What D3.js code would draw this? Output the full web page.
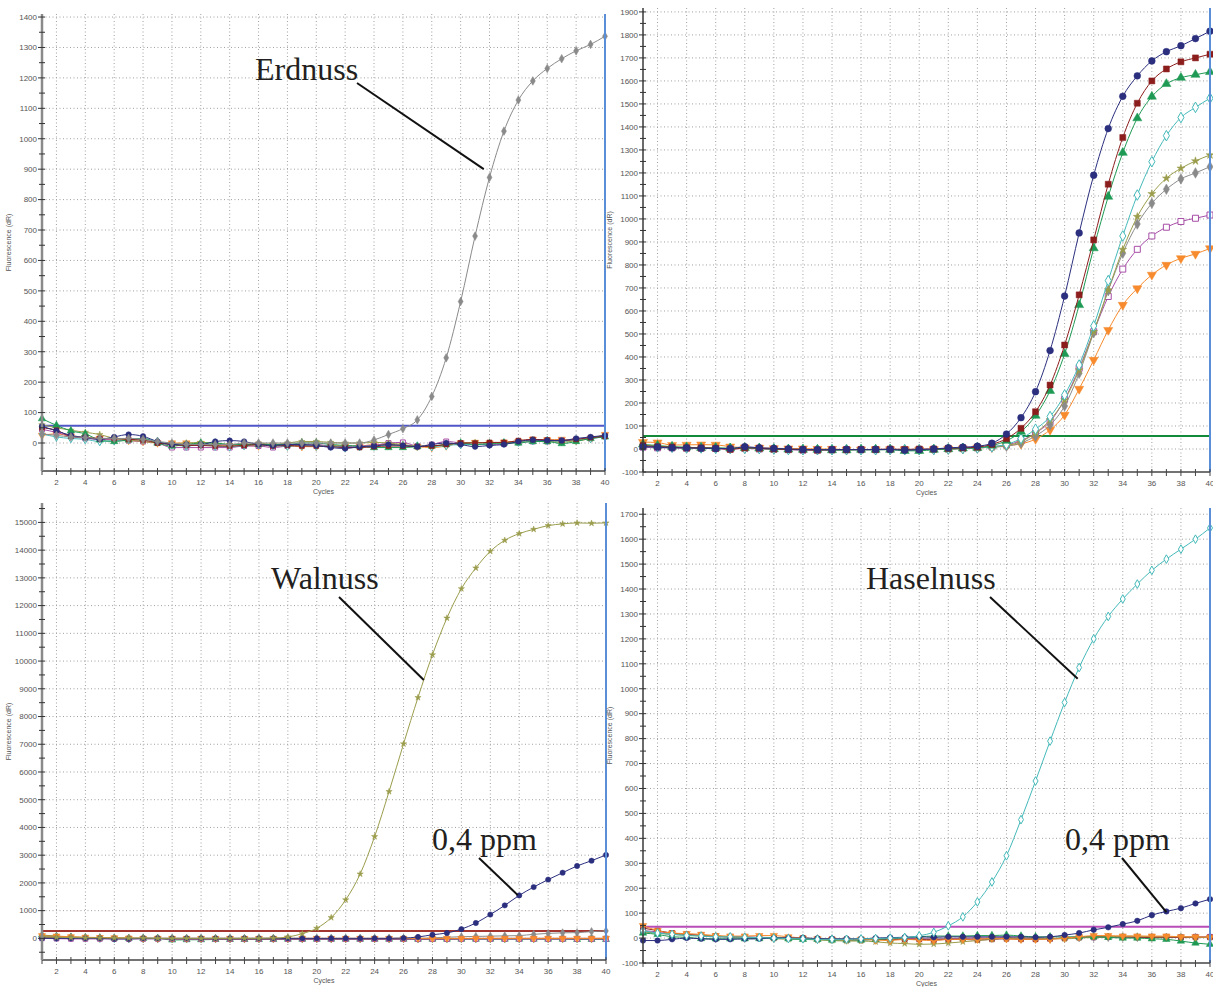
<!DOCTYPE html>
<html>
<head>
<meta charset="utf-8">
<script src="https://cdn.jsdelivr.net/npm/d3@7"></script>
<style>
  body { margin: 0; background: #fff; }
  svg { display: block; }
  .tick-label { font-family: "Liberation Sans", Arial, sans-serif; font-size: 8px; fill: #555; }
  .axis-title { font-family: "Liberation Sans", Arial, sans-serif; font-size: 7px; fill: #555; }
  .note { font-family: "Liberation Serif", "Times New Roman", serif; font-size: 32px; fill: #231f20; }
</style>
</head>
<body>
<div id="chart"></div>
<script>

// 1. Data (fluorescence dR per cycle 1..40)

const cycles = d3.range(1, 41)

// top left - Erdnuss
const p1Navy   = [55,40,25,18,12,20,28,22,5,-5,-5,-5,5,8,5,-5,-8,-5,-5,-8,-15,-18,-12,-10,-5,-8,-12,-5,0,-5,-12,-8,-5,5,10,8,8,15,20,25]
const p1Red    = [50,42,22,18,15,15,12,10,0,-5,-8,-8,-10,-10,-8,-5,-10,-8,-10,-10,-12,-15,-15,-12,-10,-10,-12,-10,-5,0,0,2,2,8,12,10,8,12,18,22]
const p1Green  = [80,58,40,30,10,5,10,15,0,-10,-5,0,0,-5,-5,-5,-5,-5,0,0,-5,-8,-10,-15,-15,-15,-12,-10,-5,0,-5,-2,0,0,5,5,-2,5,15,20]
const p1Olive  = [60,50,42,35,28,15,10,5,0,-2,0,2,0,-5,-5,0,-5,0,5,5,2,0,0,2,0,-5,-10,-10,-5,0,2,0,0,5,8,5,2,8,15,25]
const p1Teal   = [30,20,15,12,5,8,12,15,5,-5,-10,-5,-10,-12,-8,-5,-8,-10,-8,-10,-10,-15,-12,-10,-8,-8,-10,-12,-8,-5,-5,-3,0,3,8,8,5,10,15,20]
const p1Purple = [45,35,22,15,12,10,8,5,0,-15,-15,-15,-15,-15,-10,-10,-15,-10,-8,-5,-10,-12,-10,-8,0,2,-10,-5,5,0,-5,-5,-3,2,5,5,8,10,15,22]
const p1Orange = [25,30,22,18,15,10,8,5,0,0,0,-2,-8,-10,-8,-10,-8,-10,-12,-12,-8,-10,-10,-5,-5,-8,-12,-15,-10,0,2,0,3,5,12,10,12,8,15,28]
const p1Gray   = [30,25,20,18,15,15,15,12,5,0,-5,-5,-5,-5,0,0,0,0,0,0,0,0,0,10,28,47,76,153,280,465,680,873,1025,1127,1190,1231,1263,1289,1310,1337]

// top right - dilution series
const p2Navy   = [10,8,5,5,3,2,2,10,5,3,0,-2,-3,-3,-2,-3,-2,-2,-5,-3,0,5,8,12,25,65,136,249,428,665,939,1190,1393,1533,1622,1687,1727,1753,1784,1816]
const p2Red    = [15,10,8,5,5,3,-2,5,3,0,-2,-3,-5,-3,-3,-2,-2,0,-2,0,0,3,5,8,20,45,90,162,278,452,670,909,1151,1354,1503,1600,1652,1683,1700,1716]
const p2Green  = [20,15,10,8,5,5,3,5,3,0,-2,-3,-3,-5,-5,-3,-3,-3,-8,-8,-3,0,3,5,15,36,75,145,253,413,626,873,1097,1288,1438,1532,1587,1614,1627,1639]
const p2Teal   = [12,10,8,5,5,3,2,3,2,0,-2,-3,-3,-3,-3,-3,-3,-2,-3,-3,-2,0,2,5,10,20,45,86,141,235,365,535,732,926,1104,1249,1362,1441,1485,1525]
const p2Olive  = [15,12,8,5,5,3,2,3,2,0,-2,-2,-3,-3,-2,-3,-3,-2,-3,-3,-2,0,2,5,8,15,32,70,126,213,343,510,691,867,1010,1109,1177,1220,1252,1278]
const p2Gray   = [12,10,8,5,5,3,2,3,2,0,-2,-2,-3,-3,-2,-3,-3,-2,-3,-3,-2,0,2,5,8,12,26,57,104,187,329,506,688,851,978,1068,1129,1174,1200,1227]
const p2Purple = [8,5,5,3,3,2,0,2,0,-2,-3,-5,-5,-3,-3,-3,-3,-2,-3,-3,-2,0,2,5,10,18,36,70,119,216,351,510,663,782,868,926,964,989,1003,1017]
const p2Orange = [30,28,17,18,19,18,10,6,5,3,2,2,0,0,-3,-3,-2,-2,-2,-3,-2,0,2,5,8,15,22,43,83,148,261,387,517,626,698,757,800,829,848,872]

// bottom left - Walnuss
const p3Olive  = [60,40,30,20,20,10,10,10,0,0,0,0,0,0,0,0,10,50,170,365,750,1390,2322,3670,5295,7014,8686,10227,11552,12610,13357,13957,14354,14596,14751,14885,14946,14982,14970,14982]
const p3Navy   = [0,0,0,0,0,-20,-20,0,0,0,0,0,0,0,0,0,0,0,0,0,0,0,0,0,0,10,50,130,195,333,555,860,1190,1550,1850,2120,2368,2610,2801,3007]
const p3Gray   = [80,60,40,30,20,10,0,0,0,0,0,0,0,0,0,0,0,0,0,0,0,0,0,0,0,0,0,20,40,60,70,80,90,100,146,180,200,207,244,270]
const p3Red    = [50,40,30,20,10,0,0,0,0,-20,-20,-20,-20,-20,-20,-20,-20,-20,-20,-20,-20,-20,-20,-20,-20,-20,-20,-20,-20,-10,0,0,0,0,0,0,0,0,0,0]
const p3Green  = [120,80,50,30,20,10,0,0,0,-60,-50,-50,-40,-40,-40,-40,-40,-30,-30,-30,-30,-30,-30,-30,-30,-30,-30,-30,-30,-30,-30,-30,-30,-30,-30,-30,-30,-40,-40,-40]
const p3Purple = [0,-10,-20,-20,-20,-20,-20,-20,-20,-25,-25,-25,-25,-25,-25,-25,-25,-25,-25,-25,-25,-25,-25,-25,-25,-25,-25,-25,-25,-25,-25,-25,-25,-25,-25,-25,-25,-25,-25,-25]
const p3Teal   = [40,30,20,10,0,0,-10,-10,-10,-10,-10,-10,-10,-10,-10,-10,-10,-10,-10,-10,-10,-10,-10,-10,-10,-10,-10,-10,-10,-10,-10,-10,-10,-10,-10,-10,-10,-10,-10,-10]
const p3Orange = [100,80,60,40,30,20,10,0,0,0,0,0,0,0,0,0,0,0,0,0,0,0,0,0,0,0,0,0,0,0,0,0,0,0,0,0,0,0,0,0]

// bottom right - Haselnuss
const p4Teal   = [30,20,15,10,8,5,5,3,2,0,-2,-3,-5,-5,-5,-3,-2,0,2,9,23,49,85,145,225,330,475,630,790,945,1085,1200,1290,1360,1420,1475,1520,1560,1600,1645]
const p4Navy   = [-10,-10,-5,0,-3,-5,-5,-3,-3,0,0,0,-2,-3,-3,-3,0,2,3,5,3,5,5,5,5,5,5,3,5,12,20,33,43,56,69,92,107,120,139,156]
const p4Green  = [20,15,5,3,-2,-3,-3,-3,-2,2,-3,-5,-5,-8,-8,-8,-5,-3,2,5,8,8,8,10,10,12,8,5,5,5,5,5,3,0,0,-3,-5,-12,-20,-25]
const p4Olive  = [25,20,15,12,10,8,5,2,0,-2,-5,-5,-8,-10,-12,-12,-15,-20,-22,-25,-24,-20,-15,-10,-5,0,0,0,-2,-3,0,3,5,8,8,5,5,5,3,3]
const p4Orange = [50,30,20,18,15,10,8,8,10,10,5,0,-3,-5,-8,-5,-8,-10,-5,-8,-10,-5,-5,-5,0,-3,-5,-5,-5,0,5,10,10,8,8,8,8,5,5,3]
const p4Red    = [40,30,20,15,10,8,5,3,2,0,0,0,-3,-5,-5,-5,-5,-5,-5,-5,-8,-5,-5,-8,-5,-3,-5,-5,-2,0,5,5,5,5,3,3,3,3,3,3]
const p4Purple = [30,25,20,15,12,8,5,5,3,2,0,-2,-5,-5,-8,-8,-5,-3,-2,-3,-5,-3,-2,0,0,2,0,-3,-3,0,2,3,5,5,5,5,5,3,5,5]
const p4Gray   = [25,20,15,12,8,5,3,2,2,0,0,-2,-3,-3,-5,-5,-3,-3,-2,-2,-3,-2,0,0,0,0,-2,-3,-3,0,2,3,3,3,3,3,3,2,2,2]

const thresholds = [57, 57, 264, 45]

// 2. Styles

const seriesStyle = {
  navy:   { color: "#2b2f7e", symbol: d3.symbolCircle,   filled: true,  scale: 1 },
  red:    { color: "#8c1d1d", symbol: d3.symbolSquare,   filled: true,  scale: 1 },
  green:  { color: "#1f9a55", symbol: d3.symbolTriangle, filled: true,  scale: 1 },
  teal:   { color: "#45b9b9", symbol: d3.symbolDiamond,  filled: false, scale: 0.9 },
  olive:  { color: "#9b9d4c", symbol: d3.symbolStar,     filled: true,  scale: 0.55 },
  gray:   { color: "#8a8a8a", symbol: d3.symbolDiamond,  filled: true,  scale: 0.9 },
  purple: { color: "#a74ea7", symbol: d3.symbolSquare,   filled: false, scale: 1 },
  orange: { color: "#f68a2c", symbol: d3.symbolTriangle, filled: true,  scale: 1, flip: true },
}

const panels = [
  {
    left: 42, right: 605, top: 14, bottom: 471, yDomain: [-92, 1410],
    ticks: d3.range(0, 1401, 100), step: 100, axisColor: "#8a8a8a", axisWidth: 2.5,
    threshold: thresholds[0], thresholdColor: "#4f56c6", markerSize: 24,
    series: [
      ["orange", p1Orange], ["purple", p1Purple], ["teal", p1Teal], ["olive", p1Olive],
      ["green", p1Green], ["red", p1Red], ["navy", p1Navy], ["gray", p1Gray],
    ],
  },
  {
    left: 643, right: 1210, top: 8, bottom: 472, yDomain: [-100, 1917],
    ticks: d3.range(-100, 1901, 100), step: 100, axisColor: "#3a3a3a", axisWidth: 1.5,
    threshold: thresholds[1], thresholdColor: "#138a3a", markerSize: 36,
    series: [
      ["orange", p2Orange], ["purple", p2Purple], ["gray", p2Gray], ["olive", p2Olive],
      ["teal", p2Teal], ["green", p2Green], ["red", p2Red], ["navy", p2Navy],
    ],
  },
  {
    left: 42, right: 606, top: 503, bottom: 960, yDomain: [-780, 15700],
    ticks: d3.range(0, 15001, 1000), step: 1000, axisColor: "#8a8a8a", axisWidth: 2.5,
    threshold: thresholds[2], thresholdColor: "#a3342f", markerSize: 22,
    series: [
      ["teal", p3Teal], ["green", p3Green], ["red", p3Red], ["gray", p3Gray],
      ["purple", p3Purple], ["orange", p3Orange], ["navy", p3Navy], ["olive", p3Olive],
    ],
  },
  {
    left: 643, right: 1210, top: 508, bottom: 963, yDomain: [-100, 1725],
    ticks: d3.range(-100, 1701, 100), step: 100, axisColor: "#3a3a3a", axisWidth: 1.5,
    threshold: thresholds[3], thresholdColor: "#b84db8", markerSize: 24,
    series: [
      ["gray", p4Gray], ["purple", p4Purple], ["red", p4Red], ["olive", p4Olive],
      ["green", p4Green], ["orange", p4Orange], ["navy", p4Navy], ["teal", p4Teal],
    ],
  },
]

// 3. Draw canvas

const svg = d3.select("#chart")
  .append("svg")
    .attr("width", 1213)
    .attr("height", 987)

svg.append("rect")
    .attr("width", 1213)
    .attr("height", 987)
    .attr("fill", "#fff")

const scalesByPanel = panels.map(p => drawPanel(p))

function drawPanel(p) {
  const x = d3.scaleLinear().domain([1, 40]).range([p.left, p.right])
  const y = d3.scaleLinear().domain(p.yDomain).range([p.bottom, p.top])
  const g = svg.append("g")

  // grid
  g.selectAll(".hgrid")
    .data(p.ticks.filter(v => y(v) < p.bottom - 2))
    .join("line")
      .attr("x1", p.left).attr("x2", x(40))
      .attr("y1", d => y(d)).attr("y2", d => y(d))
      .attr("stroke", "#a0a0a0")
      .attr("stroke-width", 1)
      .attr("stroke-dasharray", "1,2.5")

  g.selectAll(".vgrid")
    .data(d3.range(2, 40, 2))
    .join("line")
      .attr("x1", d => x(d)).attr("x2", d => x(d))
      .attr("y1", p.top).attr("y2", p.bottom)
      .attr("stroke", "#a0a0a0")
      .attr("stroke-width", 1)
      .attr("stroke-dasharray", "1,2.5")

  // threshold
  g.append("line")
      .attr("x1", x(1)).attr("x2", x(40))
      .attr("y1", y(p.threshold)).attr("y2", y(p.threshold))
      .attr("stroke", p.thresholdColor)
      .attr("stroke-width", 2)

  // series
  const line = d3.line()
    .x((d, i) => x(cycles[i]))
    .y(d => y(d))
    .curve(d3.curveMonotoneX)

  p.series.forEach(([key, values]) => {
    const st = seriesStyle[key]
    g.append("path")
        .attr("d", line(values))
        .attr("fill", "none")
        .attr("stroke", st.color)
        .attr("stroke-width", 1)
    const sym = d3.symbol().type(st.symbol).size(p.markerSize * st.scale)
    g.selectAll(null)
      .data(values)
      .join("path")
        .attr("d", sym)
        .attr("transform", (d, i) => `translate(${x(cycles[i])},${y(d)})${st.flip ? " rotate(180)" : ""}`)
        .attr("fill", st.filled ? st.color : "#fff")
        .attr("stroke", st.color)
        .attr("stroke-width", st.filled ? 0.5 : 1)
  })

  // cycle-40 marker line
  g.append("line")
      .attr("x1", x(40)).attr("x2", x(40))
      .attr("y1", p.top).attr("y2", p.bottom)
      .attr("stroke", "#5a8fd8")
      .attr("stroke-width", 2)

  // axes
  g.append("line")
      .attr("x1", p.left).attr("x2", x(40))
      .attr("y1", p.bottom).attr("y2", p.bottom)
      .attr("stroke", "#444")
      .attr("stroke-width", 1.5)

  g.selectAll(".xtick")
    .data(cycles)
    .join("line")
      .attr("x1", d => x(d)).attr("x2", d => x(d))
      .attr("y1", p.bottom - 3).attr("y2", p.bottom + 4)
      .attr("stroke", "#444")
      .attr("stroke-width", 1)

  g.selectAll(".xlabel")
    .data(cycles.filter(d => d % 2 === 0))
    .join("text")
      .attr("class", "tick-label")
      .attr("x", d => x(d))
      .attr("y", p.bottom + 14)
      .attr("text-anchor", "middle")
      .text(d => d)

  g.append("text")
      .attr("class", "axis-title")
      .attr("x", (p.left + x(40)) / 2)
      .attr("y", p.bottom + 23)
      .attr("text-anchor", "middle")
      .text("Cycles")

  g.append("line")
      .attr("x1", p.left).attr("x2", p.left)
      .attr("y1", p.top).attr("y2", p.bottom)
      .attr("stroke", p.axisColor)
      .attr("stroke-width", p.axisWidth)

  const minor = d3.range(p.ticks[0] - p.step / 2, p.yDomain[1], p.step)
    .filter(v => v > p.yDomain[0] && v < p.yDomain[1])
  g.selectAll(".yminor")
    .data(minor)
    .join("line")
      .attr("x1", p.left - 3).attr("x2", p.left + 3)
      .attr("y1", d => y(d)).attr("y2", d => y(d))
      .attr("stroke", "#333")

  g.selectAll(".ymajor")
    .data(p.ticks)
    .join("line")
      .attr("x1", p.left - 4).attr("x2", p.left + 3)
      .attr("y1", d => y(d)).attr("y2", d => y(d))
      .attr("stroke", "#333")

  g.selectAll(".ylabel")
    .data(p.ticks)
    .join("text")
      .attr("class", "tick-label")
      .attr("x", p.left - 5)
      .attr("y", d => y(d))
      .attr("dy", "0.35em")
      .attr("text-anchor", "end")
      .text(d => d)

  g.append("text")
      .attr("class", "axis-title")
      .attr("transform", `translate(${p.left - 31},${(p.top + p.bottom) / 2}) rotate(-90)`)
      .attr("text-anchor", "middle")
      .text("Fluorescence (dR)")

  return { x, y }
}

// 4. Annotations

const notes = [
  { panel: 0, text: "Erdnuss",   tx: 255, ty: 80,  from: [357, 83],  to: [31.6, 900] },
  { panel: 2, text: "Walnuss",   tx: 271, ty: 589, from: [339, 597], to: [27.4, 9320] },
  { panel: 2, text: "0,4 ppm",   tx: 432, ty: 850, from: [479, 858], to: [33.9, 1560] },
  { panel: 3, text: "Haselnuss", tx: 866, ty: 589, from: [990, 597], to: [30.9, 1040] },
  { panel: 3, text: "0,4 ppm",   tx: 1065, ty: 850, from: [1122, 858], to: [37, 104] },
]

notes.forEach(n => {
  const { x, y } = scalesByPanel[n.panel]
  svg.append("line")
      .attr("x1", n.from[0]).attr("y1", n.from[1])
      .attr("x2", x(n.to[0])).attr("y2", y(n.to[1]))
      .attr("stroke", "#111")
      .attr("stroke-width", 2)
  svg.append("text")
      .attr("class", "note")
      .attr("x", n.tx)
      .attr("y", n.ty)
      .text(n.text)
})

</script>
</body>
</html>
